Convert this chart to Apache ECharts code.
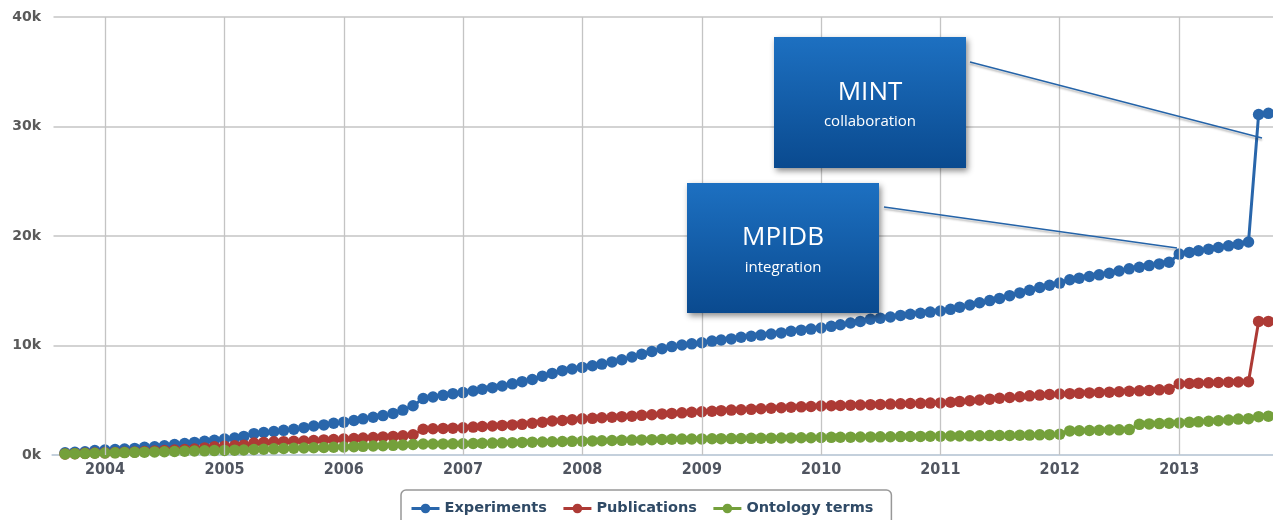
<!DOCTYPE html>
<html>
<head>
<meta charset="utf-8">
<script src="https://cdn.jsdelivr.net/npm/echarts@6/dist/echarts.min.js"></script>
<style>
html,body{margin:0;padding:0;background:#fff;}
#chart{width:1273px;height:520px;}
</style>
</head>
<body>
<div id="chart"></div>
<script>
// Months (first of month), Sep 2003 .. Oct 2013
const months = [
 '2003-09','2003-10','2003-11','2003-12',
 '2004-01','2004-02','2004-03','2004-04','2004-05','2004-06','2004-07','2004-08','2004-09','2004-10','2004-11','2004-12',
 '2005-01','2005-02','2005-03','2005-04','2005-05','2005-06','2005-07','2005-08','2005-09','2005-10','2005-11','2005-12',
 '2006-01','2006-02','2006-03','2006-04','2006-05','2006-06','2006-07','2006-08','2006-09','2006-10','2006-11','2006-12',
 '2007-01','2007-02','2007-03','2007-04','2007-05','2007-06','2007-07','2007-08','2007-09','2007-10','2007-11','2007-12',
 '2008-01','2008-02','2008-03','2008-04','2008-05','2008-06','2008-07','2008-08','2008-09','2008-10','2008-11','2008-12',
 '2009-01','2009-02','2009-03','2009-04','2009-05','2009-06','2009-07','2009-08','2009-09','2009-10','2009-11','2009-12',
 '2010-01','2010-02','2010-03','2010-04','2010-05','2010-06','2010-07','2010-08','2010-09','2010-10','2010-11','2010-12',
 '2011-01','2011-02','2011-03','2011-04','2011-05','2011-06','2011-07','2011-08','2011-09','2011-10','2011-11','2011-12',
 '2012-01','2012-02','2012-03','2012-04','2012-05','2012-06','2012-07','2012-08','2012-09','2012-10','2012-11','2012-12',
 '2013-01','2013-02','2013-03','2013-04','2013-05','2013-06','2013-07','2013-08','2013-09','2013-10'
];
// values in thousands
const experiments = [
 0.2,0.25,0.3,0.4,
 0.45,0.5,0.55,0.6,0.7,0.75,0.85,0.95,1.05,1.15,1.25,1.35,
 1.45,1.55,1.7,1.95,2.05,2.15,2.25,2.35,2.5,2.65,2.75,2.9,
 3.0,3.15,3.3,3.45,3.6,3.8,4.1,4.5,5.15,5.3,5.45,5.6,
 5.7,5.85,6.0,6.15,6.3,6.5,6.7,6.9,7.2,7.45,7.7,7.85,
 8.0,8.15,8.3,8.5,8.7,8.95,9.2,9.45,9.7,9.9,10.05,10.15,
 10.25,10.4,10.5,10.6,10.75,10.85,10.95,11.05,11.15,11.3,11.4,11.5,
 11.6,11.75,11.9,12.05,12.2,12.4,12.5,12.6,12.75,12.85,12.95,13.05,
 13.15,13.3,13.5,13.7,13.9,14.1,14.3,14.55,14.8,15.05,15.3,15.5,
 15.7,16.0,16.15,16.3,16.45,16.6,16.8,17.0,17.15,17.3,17.45,17.6,
 18.35,18.5,18.65,18.8,18.95,19.1,19.25,19.45,31.1,31.2
];
const publications = [
 0.1,0.12,0.15,0.18,
 0.2,0.22,0.25,0.28,0.32,0.36,0.4,0.45,0.5,0.55,0.65,0.75,
 0.8,0.85,0.9,1.1,1.15,1.2,1.22,1.25,1.28,1.32,1.38,1.42,
 1.46,1.5,1.55,1.6,1.65,1.7,1.75,1.85,2.35,2.4,2.43,2.45,
 2.48,2.55,2.6,2.65,2.7,2.75,2.8,2.9,3.0,3.1,3.15,3.22,
 3.3,3.35,3.4,3.45,3.5,3.55,3.62,3.68,3.75,3.8,3.85,3.9,
 3.95,4.0,4.05,4.1,4.13,4.17,4.22,4.27,4.32,4.36,4.4,4.43,
 4.47,4.5,4.52,4.55,4.57,4.6,4.62,4.65,4.67,4.7,4.72,4.74,
 4.76,4.82,4.88,4.95,5.02,5.1,5.18,5.25,5.32,5.4,5.47,5.52,
 5.57,5.6,5.63,5.67,5.7,5.74,5.78,5.82,5.86,5.9,5.95,6.0,
 6.5,6.53,6.56,6.59,6.62,6.65,6.67,6.7,12.2,12.2
];
const ontologyTerms = [
 0.1,0.12,0.14,0.16,
 0.18,0.2,0.22,0.24,0.26,0.28,0.3,0.32,0.34,0.36,0.38,0.4,
 0.42,0.44,0.46,0.5,0.53,0.56,0.59,0.62,0.64,0.66,0.69,0.71,
 0.73,0.76,0.79,0.82,0.85,0.88,0.92,0.96,1.0,1.0,1.01,1.02,
 1.03,1.05,1.07,1.09,1.11,1.13,1.15,1.17,1.19,1.21,1.23,1.25,
 1.26,1.28,1.3,1.32,1.34,1.36,1.38,1.4,1.42,1.44,1.45,1.46,
 1.47,1.48,1.49,1.5,1.51,1.52,1.53,1.54,1.55,1.56,1.57,1.58,
 1.6,1.61,1.62,1.63,1.64,1.65,1.66,1.67,1.68,1.69,1.7,1.71,
 1.72,1.73,1.74,1.75,1.76,1.77,1.78,1.79,1.8,1.82,1.84,1.86,
 1.9,2.2,2.22,2.24,2.26,2.28,2.3,2.32,2.8,2.84,2.87,2.9,
 2.93,2.98,3.03,3.08,3.13,3.2,3.28,3.32,3.5,3.55
];
const seriesNames = ['Experiments','Publications','Ontology terms'];
const seriesColors = ['#2966ab','#ad3a35','#74a03b'];
const yTicks = [0,10,20,30,40];
const yearTicks = ['2004','2005','2006','2007','2008','2009','2010','2011','2012','2013'];

function pairs(vals){ return vals.map((v,i)=>[months[i]+'-01', v]); }
const allValues = [experiments, publications, ontologyTerms];

const chart = echarts.init(document.getElementById('chart'), null, {renderer:'canvas'});
const YEAR = 365.25*24*3600*1000;
const boxFill = {type:'linear',x:0,y:0,x2:0,y2:1,colorStops:[{offset:0,color:'#1d70c1'},{offset:1,color:'#0a4a8f'}]};

const dataSeries = seriesNames.map((n,i)=>({
  name:n, type:'line', data:pairs(allValues[i]),
  symbol:'circle', symbolSize:11.5, showAllSymbol:true,
  lineStyle:{width:3, color:seriesColors[i]},
  itemStyle:{color:seriesColors[i]},
  z: 2+i
}));
// vertical year grid lines, drawn under the data
const gridSeries = {
  name:'_yearGrid', type:'line', data:[], z:1, silent:true,
  markLine:{
    silent:true, symbol:['none','none'], label:{show:false},
    lineStyle:{color:'#c4c4c4', width:1.3, type:'solid'},
    emphasis:{disabled:true},
    data: yearTicks.map(y=>({xAxis: y+'-01-01'}))
  }
};

const option = {
  animation:false,
  backgroundColor:'#fff',
  grid:{show:false, borderWidth:0, left:52, right:0, top:17, bottom:65, containLabel:false},
  legend:{
    data: seriesNames,
    left:401, top:490,
    orient:'horizontal',
    padding:[11,18,11,9],
    itemGap:15,
    itemWidth:28, itemHeight:12,
    lineStyle:{width:3},
    borderColor:'#989898', borderWidth:1.5, borderRadius:5,
    textStyle:{fontFamily:'DejaVu Sans', fontWeight:'bold', fontSize:14.5, color:'#2f4a66'}
  },
  xAxis:{
    type:'time',
    min:'2003-07-23', max:'2013-10-15',
    minInterval: YEAR*0.99, maxInterval: YEAR*1.01,
    axisLine:{show:true, onZero:false, lineStyle:{color:'#c0d0e0', width:1.5}},
    axisTick:{show:false},
    splitLine:{show:false},
    axisLabel:{formatter:'{yyyy}', showMinLabel:false, showMaxLabel:false, margin:7,
      fontFamily:'DejaVu Sans Condensed', fontWeight:'bold', fontSize:16, color:'#505560'}
  },
  yAxis:{
    type:'value', min:yTicks[0], max:yTicks[yTicks.length-1], interval:10,
    axisLine:{show:false, lineStyle:{color:'rgba(0,0,0,0)', width:0}},
    axisTick:{show:false},
    splitLine:{show:true, lineStyle:{color:'#c4c4c4', width:1.5}},
    axisLabel:{formatter:'{value}k', margin:11,
      fontFamily:'DejaVu Sans', fontWeight:'bold', fontSize:14, color:'#5a5a5a'}
  },
  series: [gridSeries].concat(dataSeries),
  graphic:[
    // mask the plot's left boundary edge (no vertical rule there in the original)
    {type:'rect', z:10, silent:true, shape:{x:50,y:15,width:3.5,height:438}, style:{fill:'#fff'}},
    {type:'line', z:50, shape:{x1:970,y1:62,x2:1262,y2:138},
      style:{stroke:'#2463a8', lineWidth:1.3, shadowBlur:2, shadowColor:'rgba(0,0,0,0.3)', shadowOffsetY:2}},
    {type:'line', z:50, shape:{x1:884,y1:207,x2:1177,y2:248},
      style:{stroke:'#2463a8', lineWidth:1.3, shadowBlur:2, shadowColor:'rgba(0,0,0,0.3)', shadowOffsetY:2}},
    {type:'rect', z:50, shape:{x:774,y:37,width:192,height:131},
      style:{fill:boxFill, shadowBlur:6, shadowColor:'rgba(0,0,0,0.45)', shadowOffsetX:2, shadowOffsetY:3}},
    {type:'text', z:51, x:870, y:93, style:{text:'MINT', fill:'#fff', font:'26px "Open Sans"', align:'center', verticalAlign:'middle'}},
    {type:'text', z:51, x:870, y:122, style:{text:'collaboration', fill:'#fff', font:'15px "Open Sans"', align:'center', verticalAlign:'middle'}},
    {type:'rect', z:50, shape:{x:687,y:183,width:192,height:130},
      style:{fill:boxFill, shadowBlur:6, shadowColor:'rgba(0,0,0,0.45)', shadowOffsetX:2, shadowOffsetY:3}},
    {type:'text', z:51, x:783, y:238, style:{text:'MPIDB', fill:'#fff', font:'26px "Open Sans"', align:'center', verticalAlign:'middle'}},
    {type:'text', z:51, x:783, y:268, style:{text:'integration', fill:'#fff', font:'15px "Open Sans"', align:'center', verticalAlign:'middle'}}
  ]
};
chart.setOption(option);
</script>
</body>
</html>
